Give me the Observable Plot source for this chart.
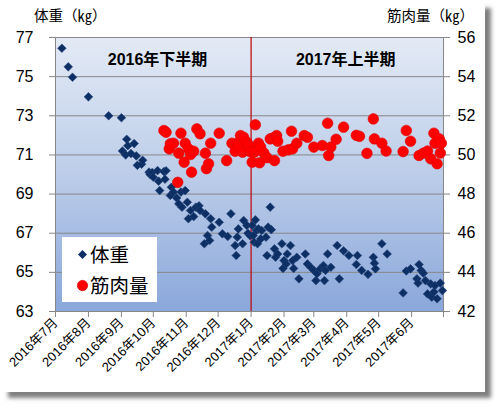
<!DOCTYPE html>
<html>
<head>
<meta charset="utf-8">
<script src="https://cdn.jsdelivr.net/npm/d3@7"></script>
<script src="https://cdn.jsdelivr.net/npm/@observablehq/plot@0.6"></script>
<style>
  html, body { margin: 0; padding: 0; background: #fff; }
  #wrap { position: relative; width: 501px; height: 408px; overflow: hidden; font-family: "Liberation Sans", "Noto Sans CJK JP", sans-serif; }
  #card { position: absolute; left: 2px; top: 2px; width: 483px; height: 390px; background: #fff; box-shadow: 6px 6px 4px rgba(0,0,0,0.5); }
  #chart { position: absolute; left: 0; top: 0; }
  .ytitle { position: absolute; top: 5px; font-size: 14.5px; color: #000; font-family: "Noto Sans CJK JP", sans-serif; line-height: 20px; white-space: nowrap; }
  #legend { position: absolute; left: 62px; top: 237px; width: 95px; height: 65px; background: #fff; font-family: "Noto Sans CJK JP", sans-serif; font-size: 19.5px; color: #000; }
  #legend .row { position: absolute; left: 14px; height: 26px; line-height: 26px; display: flex; align-items: center; white-space: nowrap; }
  #legend svg { margin-right: 1px; }
</style>
</head>
<body>
<div id="wrap">
  <div id="card"></div>
  <div id="chart"></div>
  <div class="ytitle" style="left:34px">体重（㎏）</div>
  <div class="ytitle" style="left:387px">筋肉量（㎏）</div>
  <div id="legend">
    <div class="row" style="top:4px"><svg width="13" height="13"><path d="M6.5,2L11,6.5L6.5,11L2,6.5Z" fill="#0e2f63"/></svg><span>体重</span></div>
    <div class="row" style="top:35px"><svg width="13" height="13"><circle cx="6.5" cy="6.5" r="5.2" fill="#ff0000" stroke="#e00000" stroke-width="0.6"/></svg><span>筋肉量</span></div>
  </div>
</div>
<script>
// ---- data ----
const weightDates = [
  "2016-07-07","2016-07-13","2016-07-17","2016-08-01","2016-08-20","2016-09-01","2016-09-02","2016-09-05",
  "2016-09-06","2016-09-07","2016-09-10","2016-09-13","2016-09-15","2016-09-16","2016-09-20","2016-09-21",
  "2016-09-27","2016-09-28","2016-09-30","2016-10-01","2016-10-05","2016-10-06","2016-10-07","2016-10-11",
  "2016-10-12","2016-10-13","2016-10-17","2016-10-18","2016-10-20","2016-10-23","2016-10-25","2016-10-27",
  "2016-10-28","2016-10-31","2016-11-02","2016-11-03","2016-11-05","2016-11-08","2016-11-10","2016-11-13",
  "2016-11-14","2016-11-18","2016-11-19","2016-11-21","2016-11-23","2016-11-24","2016-11-25","2016-12-02",
  "2016-12-05","2016-12-10","2016-12-13","2016-12-17","2016-12-18","2016-12-19","2016-12-20","2016-12-24",
  "2016-12-25","2016-12-28","2016-12-29","2016-12-31","2017-01-02","2017-01-03","2017-01-04","2017-01-05",
  "2017-01-06","2017-01-07","2017-01-08","2017-01-10","2017-01-11","2017-01-15","2017-01-16","2017-01-17",
  "2017-01-19","2017-01-20","2017-01-23","2017-01-24","2017-01-26","2017-01-30","2017-01-31","2017-02-01",
  "2017-02-03","2017-02-04","2017-02-07","2017-02-09","2017-02-10","2017-02-13","2017-02-15","2017-02-21",
  "2017-02-23","2017-02-26","2017-03-01","2017-03-03","2017-03-04","2017-03-07","2017-03-10","2017-03-11",
  "2017-03-12","2017-03-14","2017-03-17","2017-03-23","2017-03-25","2017-03-29","2017-04-03","2017-04-10",
  "2017-04-11","2017-04-15","2017-04-21","2017-04-26","2017-04-27","2017-04-28","2017-05-04","2017-05-09",
  "2017-05-24","2017-05-27","2017-05-31","2017-06-06","2017-06-07","2017-06-08","2017-06-10","2017-06-12",
  "2017-06-14","2017-06-16","2017-06-19","2017-06-20","2017-06-22","2017-06-23","2017-06-25","2017-06-28",
  "2017-06-30"
];
const weightKg = [
  76.45,75.5,74.97,73.97,73.0,72.9,71.2,71.0,
  71.8,71.47,71.07,71.58,70.95,70.47,70.53,70.73,
  70.12,70.0,70.1,69.86,70.2,69.66,69.18,70.15,
  69.76,70.19,68.93,69.35,69.1,68.8,68.5,69.1,
  68.33,69.18,68.58,67.74,68.16,67.85,68.33,68.4,
  68.16,66.46,67.99,66.88,66.63,67.74,67.31,67.56,
  66.97,66.83,67.99,66.37,65.86,66.8,67.22,66.46,
  67.65,67.4,67.0,66.88,67.4,66.88,66.54,67.68,
  67.14,66.46,67.22,66.71,67.14,66.8,65.86,67.31,
  68.33,67.18,66.2,65.77,65.94,66.46,65.2,65.6,
  65.43,65.94,66.37,65.6,65.2,65.77,64.67,65.94,
  65.43,65.26,65.1,64.58,64.93,65.18,65.35,64.58,
  65.1,65.94,65.26,66.37,64.67,66.1,65.86,65.4,
  65.86,65.1,64.9,65.77,65.47,65.18,66.46,65.94,
  63.95,65.07,65.18,64.67,64.45,65.4,65.1,64.96,
  64.58,63.9,64.41,63.73,64.0,64.33,63.65,64.45,
  64.07
];
const muscleDates = [
  "2016-10-11","2016-10-13","2016-10-16","2016-10-17","2016-10-20","2016-10-24","2016-10-25","2016-10-27",
  "2016-10-30","2016-10-31","2016-11-03","2016-11-05","2016-11-06","2016-11-08","2016-11-11","2016-11-14",
  "2016-11-19","2016-11-20","2016-11-22","2016-11-24","2016-12-02","2016-12-09","2016-12-14","2016-12-17",
  "2016-12-19","2016-12-20","2016-12-22","2016-12-24","2016-12-25","2016-12-28","2016-12-30","2016-12-31",
  "2017-01-02","2017-01-04","2017-01-05","2017-01-08","2017-01-09","2017-01-10","2017-01-13","2017-01-16",
  "2017-01-19","2017-01-22","2017-01-23","2017-01-25","2017-01-26","2017-01-31","2017-02-05","2017-02-08",
  "2017-02-09","2017-02-13","2017-02-20","2017-02-23","2017-03-01","2017-03-09","2017-03-14","2017-03-15",
  "2017-03-17","2017-03-22","2017-03-29","2017-04-10","2017-04-13","2017-04-20","2017-04-26","2017-04-27",
  "2017-05-04","2017-05-08","2017-05-24","2017-05-27","2017-05-31","2017-06-08","2017-06-12","2017-06-16",
  "2017-06-19","2017-06-22","2017-06-23","2017-06-25","2017-06-27","2017-06-28","2017-06-29"
];
const muscleKg = [
  51.25,51.16,50.31,50.57,50.6,48.6,50.09,51.11,
  49.63,50.6,50.31,50.02,49.12,50.19,51.33,51.08,
  50.09,49.3,49.55,50.6,51.11,49.71,50.6,50.19,
  50.6,50.48,50.99,50.14,50.9,50.65,50.48,50.17,
  49.63,50.14,51.54,50.6,49.6,50.4,50.1,49.86,
  50.82,50.87,49.71,50.99,50.7,50.19,50.26,51.21,
  50.31,50.6,50.99,50.9,50.4,50.48,51.62,49.97,
  50.4,50.8,51.42,51.0,50.95,50.08,51.84,50.82,
  50.6,50.2,50.17,51.25,50.7,49.97,50.09,50.2,
  49.8,51.11,50.6,49.55,50.82,50.1,50.6
];
const weightTicks = [63, 65, 67, 69, 71, 73, 75, 77];
const muscleTicks = [42, 44, 46, 48, 50, 52, 54, 56];
const periodLabels = ["2016年下半期", "2017年上半期"];
const periodCenters = ["2016-10-05", "2017-03-31"];
const xStart = "2016-07-01", xEnd = "2017-07-01", divider = "2017-01-01";

// ---- build ----
const start = new Date(xStart), end = new Date(xEnd);
const offset = weightTicks[0] - muscleTicks[0]; // right axis maps onto left scale
const weight = weightDates.map((d, i) => ({date: new Date(d), kg: weightKg[i]}));
const muscle = muscleDates.map((d, i) => ({date: new Date(d), kg: muscleKg[i] + offset}));
const monthTicks = d3.utcMonth.range(start, d3.utcDay.offset(end, 1));
const periods = periodLabels.map((t, i) => ({text: t, date: new Date(periodCenters[i])}));

const chart = Plot.plot({
  width: 501,
  height: 408,
  marginLeft: 55,
  marginRight: 58,
  marginTop: 37,
  marginBottom: 97,
  style: {background: "transparent", fontFamily: "'Liberation Sans','Noto Sans CJK JP',sans-serif", color: "#000", overflow: "visible"},
  x: {type: "utc", domain: [start, end], label: null},
  y: {domain: [weightTicks[0], weightTicks[weightTicks.length - 1]], label: null},
  marks: [
    Plot.frame({fill: "url(#plotbg)", stroke: "none"}),
    Plot.ruleY(weightTicks, {stroke: "#878787", strokeWidth: 1}),
    Plot.ruleX([start, end], {stroke: "#878787", strokeWidth: 1}),
    Plot.ruleX([new Date(divider)], {stroke: "#c00000", strokeWidth: 1.2}),
    Plot.axisY({ticks: weightTicks, tickSize: 6, tickPadding: 16, fontSize: 16, stroke: "#878787", fill: "#000", label: null, tickFormat: d => String(d)}),
    Plot.axisY({anchor: "right", ticks: weightTicks, tickSize: 6, tickPadding: 8, fontSize: 16, stroke: "#878787", fill: "#000", label: null, tickFormat: d => String(d - offset)}),
    Plot.axisX({ticks: monthTicks, tickSize: 6, tickPadding: 3, tickRotate: -45, fontSize: 13, stroke: "#878787", fill: "#000", label: null,
      tickFormat: d => (d >= end ? "" : `${d.getUTCFullYear()}年${d.getUTCMonth() + 1}月`)}),
    Plot.dot(weight, {x: "date", y: "kg", symbol: "diamond2", r: 3.9, fill: "#0e2f63", stroke: "#23457e", strokeWidth: 0.6}),
    Plot.dot(muscle, {x: "date", y: "kg", r: 5.3, fill: "#ff0000", stroke: "#e20000", strokeWidth: 0.6}),
    Plot.text(periods, {x: "date", text: "text", frameAnchor: "top", dy: 16, fontSize: 16, fontWeight: "bold", fill: "#000"})
  ]
});

d3.select(chart).insert("defs", ":first-child").html(
  `<linearGradient id="plotbg" x1="0" y1="0" x2="0" y2="1">
     <stop offset="0" stop-color="#e3eaf5"/>
     <stop offset="0.5" stop-color="#bccde9"/>
     <stop offset="1" stop-color="#8aa7db"/>
   </linearGradient>`
);
document.getElementById("chart").appendChild(chart);
</script>
</body>
</html>
